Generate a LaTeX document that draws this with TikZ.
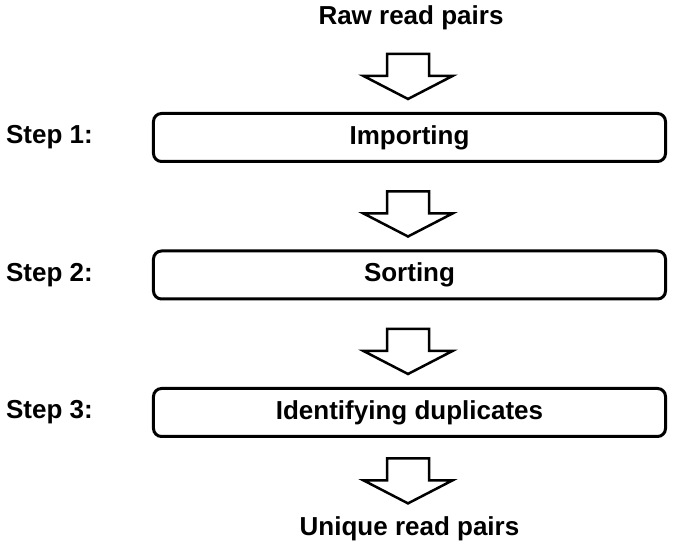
\documentclass[tikz,border=0pt]{standalone}
\usepackage{fontspec}
\setmainfont{Liberation Sans}
\usetikzlibrary{positioning,calc}

\tikzset{
  label text/.style={font=\bfseries\fontsize{26bp}{31bp}\selectfont, inner sep=0pt},
  stage/.style={label text, draw, line width=3bp, rounded corners=8bp,
    minimum width=512bp, minimum height=48bp},
  stage arrow/.style={draw, fill=white, line width=2.5bp, line join=miter}
}
% block arrow standing just above the node #1
\newcommand\stagearrow[1]{%
  \draw[stage arrow] ($(#1.north)+(-1.5,13)$) -- ++(-44.5,23) -- ++(23.5,0) -- ++(0,22)
    -- ++(42,0) -- ++(0,-22) -- ++(23.5,0) -- cycle;}

\begin{document}
\begin{tikzpicture}[x=1bp, y=1bp]
\useasboundingbox (0,0) rectangle (674,554);
\node[label text] (raw) at (411,536.3) {Raw read pairs};
\node[stage] (import) at (409.5,416.5) {Importing};
\node[stage, below=86.5bp of import] (sort) {Sorting};
\node[stage, below=86.5bp of sort] (dups) {Identifying duplicates};
\node[label text] (unique) at (409.5,25.3) {Unique read pairs};
\node[label text, left=59bp of import] (step1) {Step 1:};
\node[label text, left=59bp of sort] (step2) {Step 2:};
\node[label text, left=59bp of dups] (step3) {Step 3:};
\stagearrow{import}
\stagearrow{sort}
\stagearrow{dups}
\stagearrow{unique}
\end{tikzpicture}
\end{document}
